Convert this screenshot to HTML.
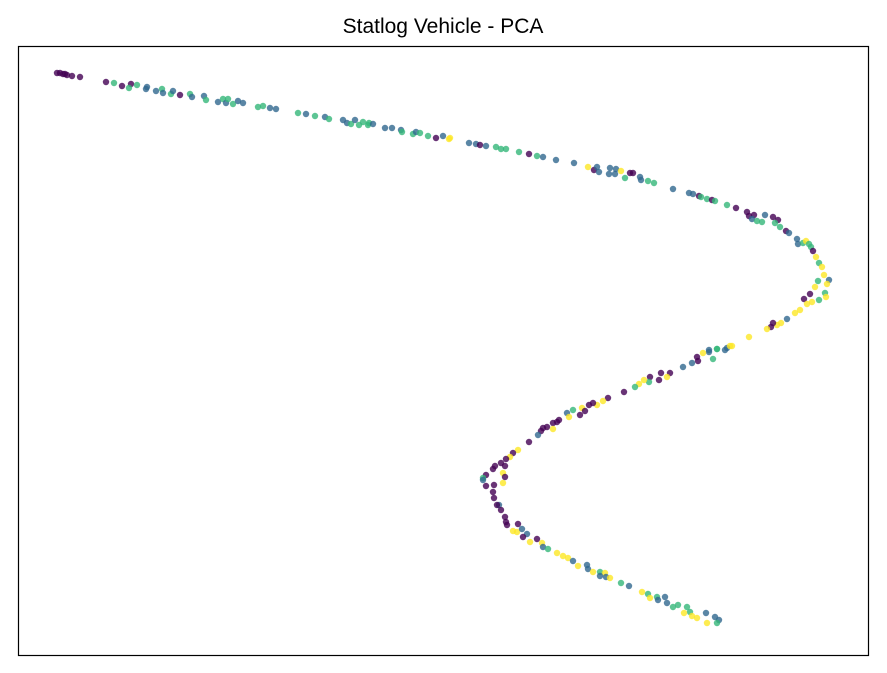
<!DOCTYPE html>
<html><head><meta charset="utf-8"><style>
html,body{margin:0;padding:0;background:#fff;}
svg{display:block;font-family:"Liberation Sans","DejaVu Sans",sans-serif;}
</style></head><body>
<svg id="chart" width="887" height="673">
<rect x="0" y="0" width="887" height="673" fill="#fff"/>
<text x="443" y="33" text-anchor="middle" font-size="21" fill="#000">Statlog Vehicle - PCA</text>
<g id="points"></g>
<rect x="18.5" y="46.5" width="850" height="609" fill="none" stroke="#000" stroke-width="1.2"/>
</svg>
<script>
const xVals=[57,60,63,65,67,72,80,106,114,122,131,129,137,147,146,156,162,163,171,173,180,190,192,204,206,218,223,226,228,233,238,243,258,263,270,276,298,306,315,325,329,343,347,351,355,359,363,368,369,373,385,392,401,402,413,416,420,428,436,443,449,
450,469,476,480,486,496,501,506,519,529,537,543,556,574,588,594,597,599,610,609,615,616,621,630,633,625,640,641,648,654,673,689,693,699,701,707,712,715,727,736,747,749,754,752,757,762,765,773,778,775,780,786,789,797,798,803,806,809,811,813,816,819,822,824,829,818,827,815,810,804,825,812,807,819,826,800,795,787,781,777,773,771,767,749,732,727,717,709,
730,725,717,709,703,697,713,692,698,683,670,667,661,659,650,649,644,639,635,624,608,603,597,593,589,582,585,580,573,567,569,559,557,553,547,543,541,553,538,529,518,513,510,506,501,495,505,493,503,486,483,483,505,503,494,486,493,494,499,497,501,505,507,506,518,513,517,522,527,523,530,537,542,543,548,557,563,568,573,578,587,588,593,600,605,600,606,610,621,629,642,648,650,657,658,665,667,673,678,687,690,684,692,697,706,707,715,719,717,723,711];
const yVals=[73,73,74,74,75,76,77,82,83,86,84,88,85,87,89,91,89,93,94,91,95,94,97,96,100,102,99,103,99,104,101,103,107,106,108,109,113,114,116,117,119,120,123,124,120,125,122,125,123,124,128,128,130,132,134,132,133,136,138,136,139,
138,143,144,145,146,147,149,149,152,154,156,157,160,163,167,170,167,172,168,174,174,169,171,173,173,178,177,180,181,183,189,193,194,196,197,199,200,201,205,208,212,216,215,219,221,222,215,217,220,223,227,231,233,239,244,243,241,244,247,251,257,263,267,275,280,281,284,287,294,299,293,302,304,300,297,310,313,319,323,325,323,327,329,337,346,348,349,350,
346,350,349,352,353,357,359,363,361,367,373,377,373,380,377,382,380,384,387,392,398,401,405,403,405,408,411,415,410,413,417,420,422,423,427,428,431,429,435,442,450,453,457,459,463,466,466,469,473,475,478,480,477,483,485,486,492,498,505,505,510,517,525,522,524,531,532,529,534,537,542,539,543,547,549,553,556,558,561,566,565,569,572,572,573,576,577,578,583,586,592,594,598,597,600,597,603,607,605,607,612,613,616,618,613,623,617,620,623,627,623];
const classIds=[0,0,0,0,0,0,0,0,2,0,0,2,2,1,1,1,2,1,2,1,0,2,1,1,2,1,2,1,2,2,1,1,2,2,1,1,2,1,2,1,2,1,1,2,1,2,2,2,2,1,1,1,1,2,2,1,2,2,0,1,3,
3,1,1,0,1,2,2,2,2,0,2,1,1,1,3,0,1,1,1,1,1,1,3,0,0,2,1,1,2,2,1,1,1,0,2,2,0,2,2,0,0,0,0,1,2,2,1,0,0,2,2,0,1,1,1,2,3,2,2,0,3,2,3,3,1,2,3,3,0,0,2,3,3,2,3,3,3,1,3,3,0,0,3,3,3,1,2,1,
3,1,2,1,3,0,2,1,0,1,0,3,0,0,0,2,3,3,2,0,0,3,3,0,0,3,0,0,2,1,3,0,0,0,0,0,0,3,1,0,3,0,3,0,0,0,0,0,3,0,2,1,0,3,0,0,0,0,1,0,0,0,0,0,0,3,3,1,1,0,3,0,3,1,2,3,3,3,1,3,1,1,3,2,3,1,1,3,2,1,3,2,3,2,1,1,1,2,2,2,2,3,3,3,1,3,1,1,2];
const classColors=["#440154","#31688e","#35b779","#fde725"];
const xDomain=[18,868], yDomain=[0,609];
function xScale(v){return 18+(v-xDomain[0])/(xDomain[1]-xDomain[0])*850;}
function yScale(v){return 46+(v-46-yDomain[0])/(yDomain[1]-yDomain[0])*609;}
const g=document.getElementById('points');
const ns='http://www.w3.org/2000/svg';
const n=Math.min(xVals.length,yVals.length,classIds.length);
for(let i=0;i<n;i++){
  const c=document.createElementNS(ns,'circle');
  c.setAttribute('cx',xScale(xVals[i]));
  c.setAttribute('cy',yScale(yVals[i]));
  c.setAttribute('r',3.2);
  c.setAttribute('fill',classColors[classIds[i]]);
  c.setAttribute('fill-opacity',0.8);
  
  
  g.appendChild(c);
}
</script>
</body></html>
